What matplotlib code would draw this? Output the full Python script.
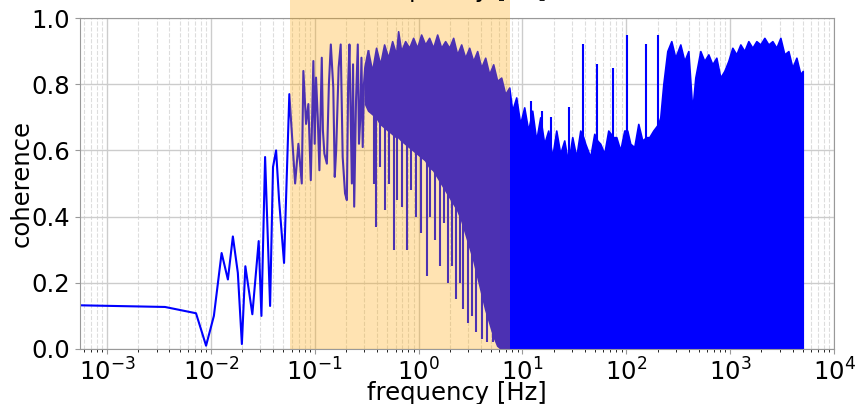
import matplotlib.pyplot as plt

# sparse low-frequency part of the coherence curve (Hz, coherence)
sparse_f = [5.5e-4, 3.62e-3, 7.2e-3, 9.0e-3, 1.07e-2, 1.27e-2, 1.46e-2, 1.63e-2,
            1.82e-2, 1.99e-2, 2.15e-2, 2.51e-2, 2.89e-2, 3.07e-2, 3.33e-2, 3.72e-2,
            3.97e-2, 4.25e-2, 4.54e-2, 5.07e-2, 5.70e-2, 6.48e-2, 6.97e-2, 7.51e-2,
            7.78e-2, 8.26e-2, 8.69e-2, 9.17e-2, 9.71e-2, 0.100, 0.103, 0.107, 0.111,
            0.117, 0.120, 0.124, 0.131, 0.137, 0.143, 0.151, 0.156, 0.161, 0.170,
            0.178, 0.186, 0.196, 0.204, 0.210, 0.216, 0.228, 0.234, 0.240, 0.250,
            0.260, 0.267, 0.274, 0.282, 0.290, 0.298, 0.306, 0.329]
sparse_c = [0.132, 0.127, 0.108, 0.01, 0.10, 0.29, 0.21, 0.34,
            0.23, 0.015, 0.25, 0.105, 0.326, 0.10, 0.58, 0.13,
            0.55, 0.60, 0.45, 0.26, 0.77, 0.50, 0.62, 0.50,
            0.84, 0.68, 0.74, 0.51, 0.87, 0.62, 0.82, 0.70, 0.54,
            0.88, 0.66, 0.59, 0.56, 0.80, 0.92, 0.79, 0.52, 0.60, 0.85,
            0.92, 0.58, 0.47, 0.45, 0.80, 0.92, 0.50, 0.86, 0.43, 0.75,
            0.92, 0.62, 0.69, 0.88, 0.61, 0.80, 0.85, 0.90]

# dense part: upper and lower edge of the band of oscillations
band_f = [0.306, 0.327, 0.357, 0.390, 0.427, 0.466, 0.510, 0.557, 0.608, 0.636,
          0.680, 0.743, 0.812, 0.887, 0.969, 1.059, 1.158, 1.265, 1.382, 1.511,
          1.651, 1.804, 1.972, 2.154, 2.354, 2.573, 2.812, 3.073, 3.357, 3.669,
          4.010, 4.382, 4.789, 5.233, 5.718, 6.248, 6.829, 7.464, 7.975, 8.716,
          9.524, 10.41, 11.37, 12.43, 13.58, 14.84, 16.22, 17.73, 19.37, 21.17,
          23.13, 25.28, 27.62, 30.19, 32.99, 36.05, 38.52, 40.27, 45.00, 49.18,
          52.55, 56.17, 61.38, 67.08, 74.96, 80.12, 87.55, 95.66, 102.2, 109.3,
          119.4, 130.5, 142.6, 155.9, 166.6, 182.0, 203.4, 212.6, 227.3, 248.4,
          271.4, 296.6, 331.3, 362.2, 395.7, 432.4, 462.1, 516.4, 564.2, 616.6,
          673.8, 736.4, 804.6, 879.3, 960.9, 1050, 1147, 1254, 1370, 1497,
          1637, 1788, 1954, 2136, 2334, 2550, 2787, 3045, 3328, 3637,
          3974, 4343, 4746, 5000]
band_top = [0.85, 0.90, 0.84, 0.91, 0.86, 0.92, 0.88, 0.93, 0.89, 0.96,
            0.90, 0.93, 0.91, 0.94, 0.91, 0.95, 0.92, 0.94, 0.91, 0.95,
            0.91, 0.93, 0.91, 0.94, 0.89, 0.92, 0.88, 0.91, 0.87, 0.90,
            0.85, 0.88, 0.83, 0.86, 0.81, 0.82, 0.77, 0.79, 0.72, 0.76,
            0.68, 0.73, 0.66, 0.72, 0.63, 0.70, 0.62, 0.66, 0.58, 0.66,
            0.59, 0.63, 0.56, 0.64, 0.58, 0.66, 0.64, 0.62, 0.58, 0.65,
            0.63, 0.62, 0.59, 0.66, 0.64, 0.64, 0.60, 0.66, 0.66, 0.62,
            0.61, 0.68, 0.63, 0.64, 0.64, 0.66, 0.68, 0.70, 0.80, 0.90,
            0.93, 0.88, 0.92, 0.87, 0.90, 0.72, 0.82, 0.90, 0.87, 0.89,
            0.86, 0.88, 0.82, 0.84, 0.87, 0.91, 0.89, 0.92, 0.90, 0.93,
            0.91, 0.93, 0.92, 0.94, 0.92, 0.93, 0.91, 0.94, 0.89, 0.90,
            0.85, 0.88, 0.83, 0.84]
band_bot = [0.74, 0.72, 0.71, 0.70, 0.68, 0.67, 0.66, 0.65, 0.64, 0.64,
            0.63, 0.62, 0.61, 0.60, 0.59, 0.58, 0.57, 0.55, 0.54, 0.52,
            0.50, 0.48, 0.46, 0.44, 0.42, 0.39, 0.35, 0.31, 0.27, 0.22,
            0.17, 0.12, 0.08, 0.04, 0.01] + [0.0] * 79

# thin spikes below / above the band (Hz, low end, high end)
spike_f = [0.37, 0.39, 0.43, 0.48, 0.52, 0.58, 0.62, 0.70, 0.78, 0.85,
           0.95, 1.05, 1.20, 1.30, 1.45, 1.60, 1.75, 1.90, 2.10, 2.30,
           2.50, 2.70, 3.00, 3.30, 3.60, 4.10, 4.60, 5.20,
           12.0, 15.5, 19.0, 28.0, 38.5, 52.5, 75.0, 102.0, 156.0, 203.0]
spike_lo = [0.50, 0.37, 0.55, 0.42, 0.50, 0.30, 0.45, 0.43, 0.30, 0.48,
            0.40, 0.35, 0.22, 0.40, 0.33, 0.25, 0.38, 0.20, 0.25, 0.15,
            0.20, 0.12, 0.08, 0.10, 0.05, 0.03, 0.02, 0.02,
            0.60, 0.55, 0.52, 0.55, 0.60, 0.58, 0.58, 0.60, 0.60, 0.62]
spike_hi = [0.72, 0.71, 0.69, 0.67, 0.66, 0.65, 0.64, 0.63, 0.62, 0.61,
            0.60, 0.59, 0.57, 0.55, 0.54, 0.52, 0.50, 0.48, 0.46, 0.44,
            0.42, 0.40, 0.35, 0.30, 0.25, 0.18, 0.12, 0.06,
            0.75, 0.72, 0.70, 0.73, 0.92, 0.86, 0.85, 0.95, 0.92, 0.95]

span_lo, span_hi = 0.058, 7.6

fs = 17.5
fig = plt.figure(figsize=(8.58, 4.04), dpi=100)
ax = fig.add_axes([80 / 858, 55 / 404, 754 / 858, 331 / 404])

ax.plot(sparse_f, sparse_c, color='blue', lw=1.5, zorder=2)
ax.fill_between(band_f, band_bot, band_top, color='blue', lw=1.2, zorder=2)
ax.vlines(spike_f, spike_lo, spike_hi, color='blue', lw=1.5, zorder=2)

ax.axvspan(span_lo, span_hi, ymin=0, ymax=1.2, color='orange', alpha=0.3,
           lw=0, clip_on=False, zorder=3)

ax.set_xscale('log')
ax.set_xlim(5.5e-4, 1e4)
ax.set_ylim(0, 1)
ax.set_yticks([0, 0.2, 0.4, 0.6, 0.8, 1.0])
ax.grid(which='major', color='#cccccc', lw=1)
ax.grid(which='minor', axis='x', color='#dddddd', lw=0.8, ls='--')
ax.set_axisbelow(True)
for s in ax.spines.values():
    s.set_color('#999999')
ax.tick_params(labelsize=fs, colors='#999999', labelcolor='black')
ax.set_xlabel('frequency [Hz]', fontsize=fs)
ax.set_ylabel('coherence', fontsize=fs)
ax.xaxis.set_label_coords(0.5, -0.097)
ax.yaxis.set_label_coords(-0.061, 0.5)

# x label of the panel above, cut off by the figure edge
fig.text(457 / 858, 1 + 3 / 404, 'frequency [Hz]', ha='center', va='baseline',
         fontsize=fs, zorder=5)

fig.savefig('out.png', dpi=100)
